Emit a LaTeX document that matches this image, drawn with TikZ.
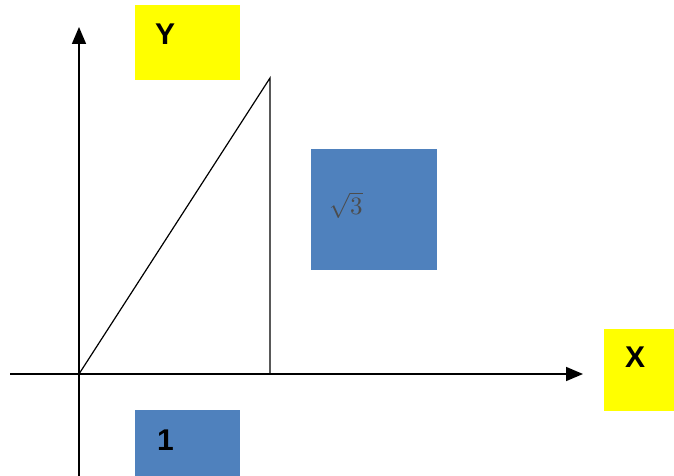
\documentclass[tikz,border=0pt]{standalone}
\usepackage{fontspec}
\setmainfont{Liberation Sans}
\usepackage{graphicx}
\usepackage{tikz}
\usetikzlibrary{positioning,arrows.meta}

\definecolor{boxblue}{HTML}{4F81BD}
\definecolor{boxyellow}{HTML}{FFFF00}

\tikzset{
  tag/.style={draw=none,inner sep=0pt,outer sep=0pt,anchor=north west},
  tagtext/.style={inner sep=0pt,anchor=north west,font=\bfseries\fontsize{30}{34}\selectfont},
  axis/.style={line width=1.6pt,-{Triangle[length=17pt,width=14pt]}},
  side/.style={line width=1.2pt}
}

\begin{document}
\begin{tikzpicture}[x=1pt,y=-1pt]
  \useasboundingbox (0,0) rectangle (674,476);
  % axes
  \coordinate (O) at (79,374);
  \coordinate (xstart) at (10,374);
  \coordinate (xend) at (583,374);
  \coordinate (ystart) at (79,476);
  \coordinate (yend) at (79,27);
  \draw[axis] (xstart) -- (xend);
  \draw[axis] (ystart) -- (yend);
  % triangle
  \coordinate (apex) at (270,78);
  \coordinate (foot) at (270,374);
  \draw[side] (O) -- (apex) -- (foot);
  % label boxes
  \node[tag,fill=boxyellow,minimum width=105pt,minimum height=75pt] (ybox) at (135,5) {};
  \node[tag,fill=boxyellow,minimum width=70pt,minimum height=82pt] (xbox) at (604,329) {};
  \node[tag,fill=boxblue,minimum width=126pt,minimum height=121pt] (rbox) at (311,149) {};
  \node[tag,fill=boxblue,minimum width=105pt,minimum height=66pt] (onebox) at (135,410) {};
  % label texts
  \node[tagtext,below right=19pt and 20pt of ybox.north west] (ylbl) {Y};
  \node[tagtext,below right=18pt and 21pt of xbox.north west] (xlbl) {X};
  \node[tagtext,below right=20pt and 22pt of onebox.north west] (onelbl) {1};
  \node[inner sep=0pt,anchor=north west,text=black!70,
        below right=43pt and 18pt of rbox.north west] (rlbl) {\scalebox{2.5}{$\sqrt{3}$}};
\end{tikzpicture}
\end{document}
